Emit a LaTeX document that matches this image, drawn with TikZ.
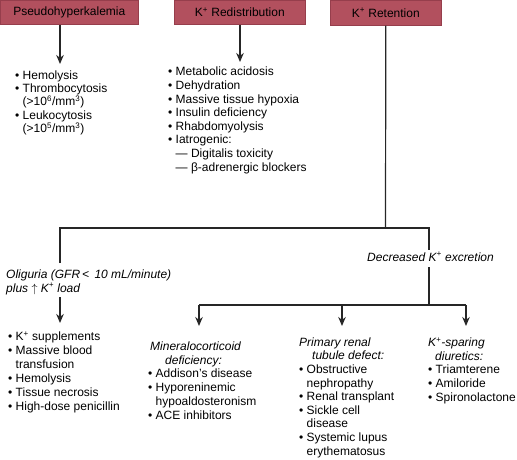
\documentclass[tikz,border=0pt]{standalone}
\usepackage{fontspec}
\setmainfont{Liberation Sans}
\usetikzlibrary{arrows.meta}
\definecolor{boxred}{RGB}{178,80,94}
\definecolor{boxedge}{RGB}{150,62,76}
\newcommand\bul{\textbullet\ }
\newcommand\ind{\hspace*{7.5pt}}
\newcommand\upk{\textsuperscript}
\begin{document}
\begin{tikzpicture}[x=1pt,y=-1pt]
\tikzset{
 hdr/.style={draw=boxedge, fill=boxred, line width=0.6pt, minimum height=24pt, inner sep=0pt,
   font=\fontsize{12}{14}\selectfont, anchor=north west},
 lst/.style={align=left, inner sep=0pt, anchor=base west, font=\fontsize{12}{13.7}\selectfont},
 ilst/.style={lst, font=\fontsize{12}{13.2}\selectfont\itshape},
 conn/.style={line width=1.2pt, draw=black!85},
 arr/.style={conn, -{Stealth[length=9pt,width=7.5pt]}},
}
\useasboundingbox (0,0) rectangle (517,460);
% header boxes
\node[hdr, minimum width=138pt] (pseudo) at (0,0) {Pseudohyperkalemia};
\node[hdr, minimum width=131pt] (redis) at (174,0) {K\upk{+} Redistribution};
\node[hdr, minimum width=111pt, minimum height=25pt] (ret) at (330,0) {K\upk{+} Retention};
% top lists (anchor = baseline of last line)
\node[lst, font=\fontsize{12}{13.4}\selectfont] (plist) at (15,132.7) {\bul Hemolysis\\
 \bul Thrombocytosis\\
 \ind(>10\upk{6}/mm\upk{3})\\
 \bul Leukocytosis\\
 \ind(>10\upk{5}/mm\upk{3})};
\node[lst, font=\fontsize{12}{13.6}\selectfont] (rlist) at (168,171) {\bul Metabolic acidosis\\
 \bul Dehydration\\
 \bul Massive tissue hypoxia\\
 \bul Insulin deficiency\\
 \bul Rhabdomyolysis\\
 \bul Iatrogenic:\\
 \ind — Digitalis toxicity\\
 \ind — β-adrenergic blockers};
% top arrows
\coordinate (pa) at (60,64);
\coordinate (ra) at (240,62);
\draw[arr] (pseudo.south -| pa) -- (pa);
\draw[arr] (redis.south -| ra) -- (ra);
% middle labels
\node[ilst] (olig) at (6,292) {Oliguria (GFR\,<\, 10 mL/minute)\\plus $\uparrow$ K\upk{+} load};
\node[ilst] (decr) at (367,261) {Decreased K\upk{+}\ excretion};
% tree
\coordinate (j1) at (385.5,228);
\coordinate (la) at (60,228);
\coordinate (lr) at (429,228);
\coordinate (laend) at (60,263);
\coordinate (lrend) at (429,250);
\coordinate (rb) at (429,267);
\coordinate (rj2) at (429,305);
\coordinate (b1) at (199,305);
\coordinate (b2) at (342,305);
\coordinate (b3) at (466,305);
\coordinate (t1) at (199,326);
\coordinate (t2) at (342,326);
\coordinate (t3) at (466,326);
\coordinate (ls) at (60,297);
\coordinate (lt) at (60,323);
\draw[conn] (ret.south) -- (j1);
\draw[conn] (laend) -- (la) -- (lr) -- (lrend);
\draw[conn] (rb) -- (rj2);
\draw[conn] (b1) -- (b3);
\draw[arr] (b1) -- (t1);
\draw[arr] (b2) -- (t2);
\draw[arr] (b3) -- (t3);
\draw[arr] (ls) -- (lt);
% bottom lists
\node[lst, font=\fontsize{12}{13.9}\selectfont] (llist) at (8,410) {\bul K\upk{+} supplements\\
 \bul Massive blood\\
 \ind transfusion\\
 \bul Hemolysis\\
 \bul Tissue necrosis\\
 \bul High-dose penicillin};
\node[lst] (mlist) at (148,419) {\hspace*{2pt}\textit{Mineralocorticoid}\\
 \hspace*{17pt}\textit{deficiency:}\\
 \bul Addison’s disease\\
 \bul Hyporeninemic\\
 \ind hypoaldosteronism\\
 \bul ACE inhibitors};
\node[lst, font=\fontsize{12}{13.6}\selectfont] (prlist) at (299,455) {\textit{Primary renal}\\
 \hspace*{13pt}\textit{tubule defect:}\\
 \bul Obstructive\\
 \ind nephropathy\\
 \bul Renal transplant\\
 \bul Sickle cell\\
 \ind disease\\
 \bul Systemic lupus\\
 \ind erythematosus};
\node[lst, font=\fontsize{12}{13.6}\selectfont] (slist) at (428,401) {\textit{K\upk{+}-sparing}\\
 \hspace*{7pt}\textit{diuretics:}\\
 \bul Triamterene\\
 \bul Amiloride\\
 \bul Spironolactone};
\end{tikzpicture}
\end{document}
